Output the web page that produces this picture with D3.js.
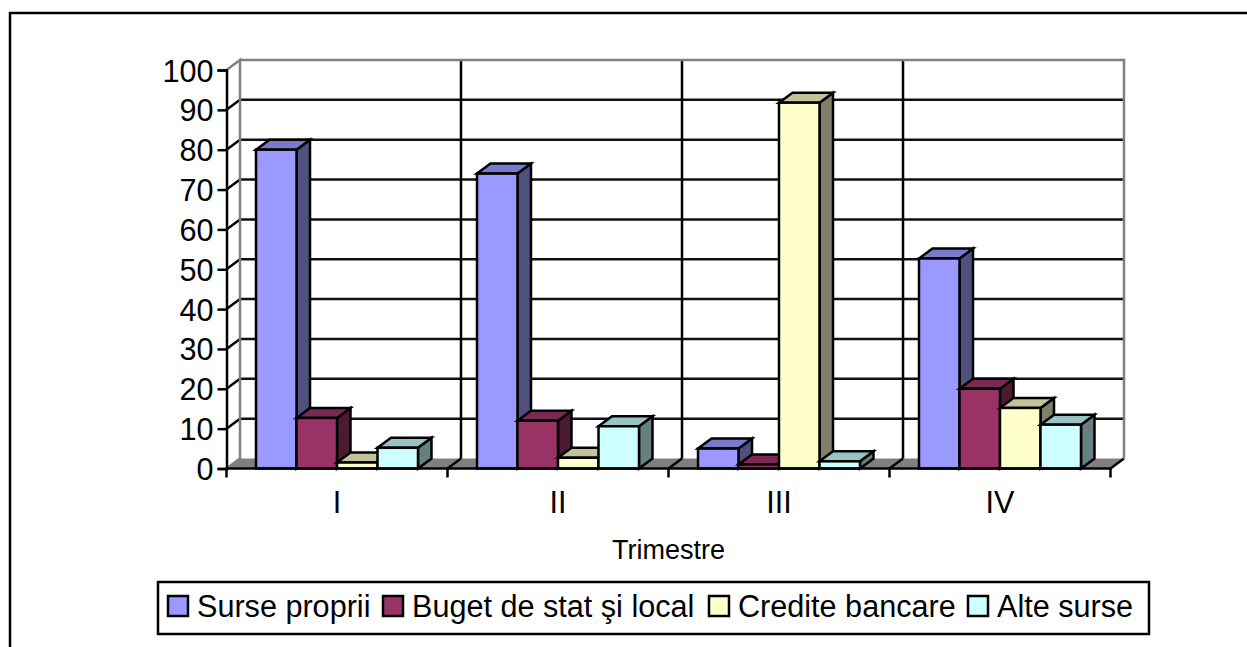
<!DOCTYPE html>
<html>
<head>
<meta charset="utf-8">
<script src="https://cdnjs.cloudflare.com/ajax/libs/d3/7.8.5/d3.min.js"></script>
<style>
  html, body { margin: 0; padding: 0; background: #fff; }
  svg { display: block; }
  text { font-family: "Liberation Sans", Arial, sans-serif; fill: #000; }
</style>
</head>
<body>
<svg id="chart" width="1247" height="647"></svg>
<script>
const quarters = ['I', 'II', 'III', 'IV'];
const seriesNames = ['Surse proprii', 'Buget de stat şi local', 'Credite bancare', 'Alte surse'];
const surseProprii = [80, 74, 5, 52.7];
const bugetStat = [12.7, 12, 1, 20];
const crediteBancare = [1.5, 2.7, 91.8, 15.2];
const alteSurse = [5.2, 10.6, 1.8, 11];
const yTicks = [0, 10, 20, 30, 40, 50, 60, 70, 80, 90, 100];
const seriesValues = [surseProprii, bugetStat, crediteBancare, alteSurse];

const frontColors = ['#9999ff', '#993366', '#ffffcc', '#ccffff'];
const topColors = ['#7a7acc', '#7a2952', '#c2c29b', '#99c2c2'];
const sideColors = ['#50507f', '#4d1a33', '#80806a', '#668080'];
const legendSwatchX = [168, 383, 709, 968];
const legendTextX = [197, 412, 738, 997];

const svg = d3.select('#chart');

const depthX = 13.5;
const depthY = -10;
const lineWidth = 2.5;
const labelSize = 30.6;
const plotLeft = 226.5, plotRight = 1110.5, plotBottom = 468.5, plotTop = 70;

const x = d3.scaleBand().domain(quarters).range([plotLeft, plotRight]).paddingInner(0).paddingOuter(0);
const inner = d3.scaleBand().domain(d3.range(seriesNames.length))
  .range([x.bandwidth() * 0.1335, x.bandwidth() * 0.8665]);
const y = d3.scaleLinear().domain([0, 100]).range([plotBottom, plotTop]);

const line = (x1, y1, x2, y2, color) => svg.append('line')
  .attr('x1', x1).attr('y1', y1).attr('x2', x2).attr('y2', y2)
  .attr('stroke', color).attr('stroke-width', lineWidth);

// frame of the page, only top and left sides show
line(9.5, 13, 1247, 13, '#000');
line(10, 12, 10, 647, '#000');

// floor
svg.append('polygon')
  .attr('points', [[plotLeft, plotBottom], [plotLeft + depthX, plotBottom + depthY], [plotRight + depthX, plotBottom + depthY], [plotRight, plotBottom]].join(' '))
  .attr('fill', '#808080');

// horizontal gridlines on the back wall and side wall
yTicks.slice(1, -1).forEach(t => {
  line(plotLeft + depthX, y(t) + depthY, plotRight + depthX, y(t) + depthY, '#111');
  line(plotLeft, y(t), plotLeft + depthX, y(t) + depthY, '#000');
});

// vertical gridlines
quarters.slice(1).forEach(q => {
  line(x(q) + depthX, y(100) + depthY, x(q) + depthX, plotBottom + depthY, '#000');
  line(x(q), plotBottom, x(q) + depthX, plotBottom + depthY, '#000');
});
line(plotRight, plotBottom, plotRight + depthX, plotBottom + depthY, '#000');

// wall outline
svg.append('polyline')
  .attr('points', [[plotLeft, y(100)], [plotLeft + depthX, y(100) + depthY], [plotLeft + depthX, plotBottom + depthY], [plotLeft, plotBottom]].join(' '))
  .attr('fill', 'none').attr('stroke', '#808080').attr('stroke-width', lineWidth);
svg.append('polyline')
  .attr('points', [[plotLeft + depthX, y(100) + depthY], [plotRight + depthX, y(100) + depthY], [plotRight + depthX, plotBottom + depthY]].join(' '))
  .attr('fill', 'none').attr('stroke', '#808080').attr('stroke-width', lineWidth);

// bars, left to right so each one covers the side of the one before
const bars = svg.append('g').attr('stroke', '#000').attr('stroke-width', lineWidth).attr('stroke-linejoin', 'miter');
quarters.forEach((q, qi) => {
  seriesValues.forEach((values, si) => {
    const x0 = x(q) + inner(si);
    const x1 = x0 + inner.bandwidth();
    const yt = y(values[qi]);
    const g = bars.append('g');
    g.append('polygon')
      .attr('points', [[x1, yt], [x1 + depthX, yt + depthY], [x1 + depthX, plotBottom + depthY], [x1, plotBottom]].join(' '))
      .attr('fill', sideColors[si]);
    g.append('polygon')
      .attr('points', [[x0, yt], [x0 + depthX, yt + depthY], [x1 + depthX, yt + depthY], [x1, yt]].join(' '))
      .attr('fill', topColors[si]);
    g.append('rect')
      .attr('x', x0).attr('y', yt).attr('width', x1 - x0).attr('height', plotBottom - yt)
      .attr('fill', frontColors[si]);
  });
});

// y axis
const yAxis = d3.axisLeft(y).tickValues(yTicks).tickSize(9).tickPadding(4).tickFormat(d3.format('d'));
const yG = svg.append('g').attr('transform', `translate(${plotLeft},0)`).call(yAxis);
yG.selectAll('text').attr('font-size', labelSize).attr('font-family', '"Liberation Sans", Arial, sans-serif').attr('dy', '0.36em');
yG.selectAll('line').attr('stroke', '#000').attr('stroke-width', lineWidth);
yG.select('.domain').attr('stroke', '#000').attr('stroke-width', lineWidth);

// x axis, ticks sit on the band edges
line(plotLeft - 1, plotBottom, plotRight + 1, plotBottom, '#000');
quarters.forEach(q => line(x(q), plotBottom, x(q), plotBottom + 9, '#000'));
line(plotRight, plotBottom, plotRight, plotBottom + 9, '#000');
svg.append('g').selectAll('text').data(quarters).join('text')
  .attr('x', d => x(d) + x.bandwidth() / 2)
  .attr('y', 513)
  .attr('text-anchor', 'middle')
  .attr('font-size', labelSize)
  .text(d => d);

svg.append('text')
  .attr('x', 668.5).attr('y', 559)
  .attr('text-anchor', 'middle')
  .attr('font-size', 27)
  .text('Trimestre');

// legend
svg.append('rect')
  .attr('x', 158).attr('y', 582).attr('width', 991).attr('height', 52)
  .attr('fill', '#fff').attr('stroke', '#000').attr('stroke-width', lineWidth);
seriesNames.forEach((name, i) => {
  svg.append('rect')
    .attr('x', legendSwatchX[i]).attr('y', 596).attr('width', 20).attr('height', 20)
    .attr('fill', frontColors[i]).attr('stroke', '#000').attr('stroke-width', lineWidth);
  svg.append('text')
    .attr('x', legendTextX[i]).attr('y', 617)
    .attr('font-size', labelSize)
    .text(name);
});
</script>
</body>
</html>
